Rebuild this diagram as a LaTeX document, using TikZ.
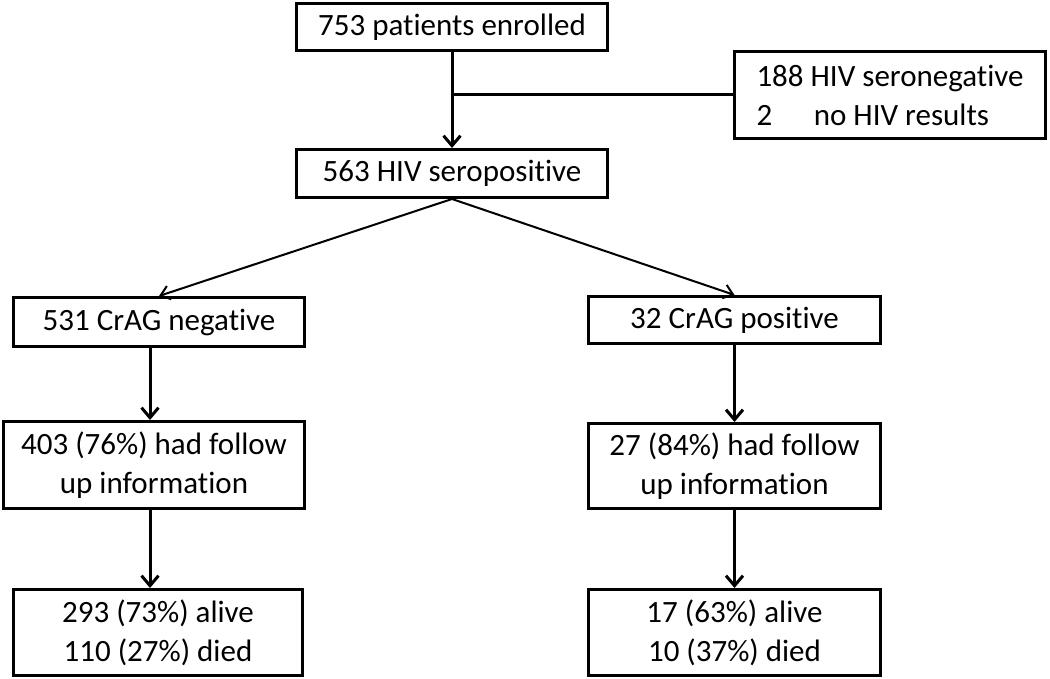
\documentclass[tikz,border=0pt]{standalone}
\usepackage{fontspec}
\setmainfont{Carlito}[Ligatures=NoCommon]
\usepackage{tikz}
\usetikzlibrary{arrows.meta, positioning, calc}

\begin{document}
\begin{tikzpicture}[
x=1pt, y=-1pt,
node distance=72pt,
every node/.style={font=\fontsize{31}{39}\selectfont},
box/.style={draw, line width=3pt, rectangle, minimum width=311pt, minimum height=47pt, inner sep=0pt, align=center},
flow/.style={line width=3pt, -{Straight Barb[length=10pt, width=17pt, line width=3pt]}},
split/.style={line width=2pt, -{Straight Barb[length=9pt, width=14pt, line width=2pt]}}
]
\useasboundingbox (0,0) rectangle (1050,679);

\node[box] (enrolled) at (452,27) {753 patients enrolled};

\node[box, below=96pt of enrolled, minimum height=48pt] (seropos)
{563 HIV seropositive};

\node[box, minimum height=87pt, align=left] (excluded) at (890,95)
{188 HIV seronegative\\
\makebox[1.85em][l]{2}no HIV results};

% CrAG negative branch
\node[box, minimum width=291pt, minimum height=49pt] (neg) at (159,322)
{531 CrAG negative};

\node[box, below=of neg, xshift=-5pt, minimum width=301pt, minimum height=87pt]
(negfu)
{403 (76\%) had follow\\ up information};

\node[box, below=78pt of negfu, xshift=4pt, minimum width=289pt, minimum height=86pt]
(negout)
{293 (73\%) alive\\ 110 (27\%) died};

% CrAG positive branch
\node[box, minimum width=292pt] (pos) at (734.5,320)
{32 CrAG positive};

\node[box, below=77pt of pos, minimum width=292pt, minimum height=85pt]
(posfu)
{27 (84\%) had follow\\ up information};

\node[box, below=78pt of posfu, minimum width=292pt, minimum height=86pt]
(posout)
{17 (63\%) alive\\ 10 (37\%) died};

\coordinate (colL) at (150,0);

\draw[flow] (enrolled) -- (seropos);
\draw[line width=3pt] (excluded.west) -- (excluded.west -| enrolled.south);
\draw[split] (seropos.south) -- (neg.north);
\draw[split] (seropos.south) -- (pos.north);
\draw[flow] (neg.south -| colL) -- (negfu.north -| colL);
\draw[flow] (negfu.south -| colL) -- (negout.north -| colL);
\draw[flow] (pos) -- (posfu);
\draw[flow] (posfu) -- (posout);

\end{tikzpicture}
\end{document}
